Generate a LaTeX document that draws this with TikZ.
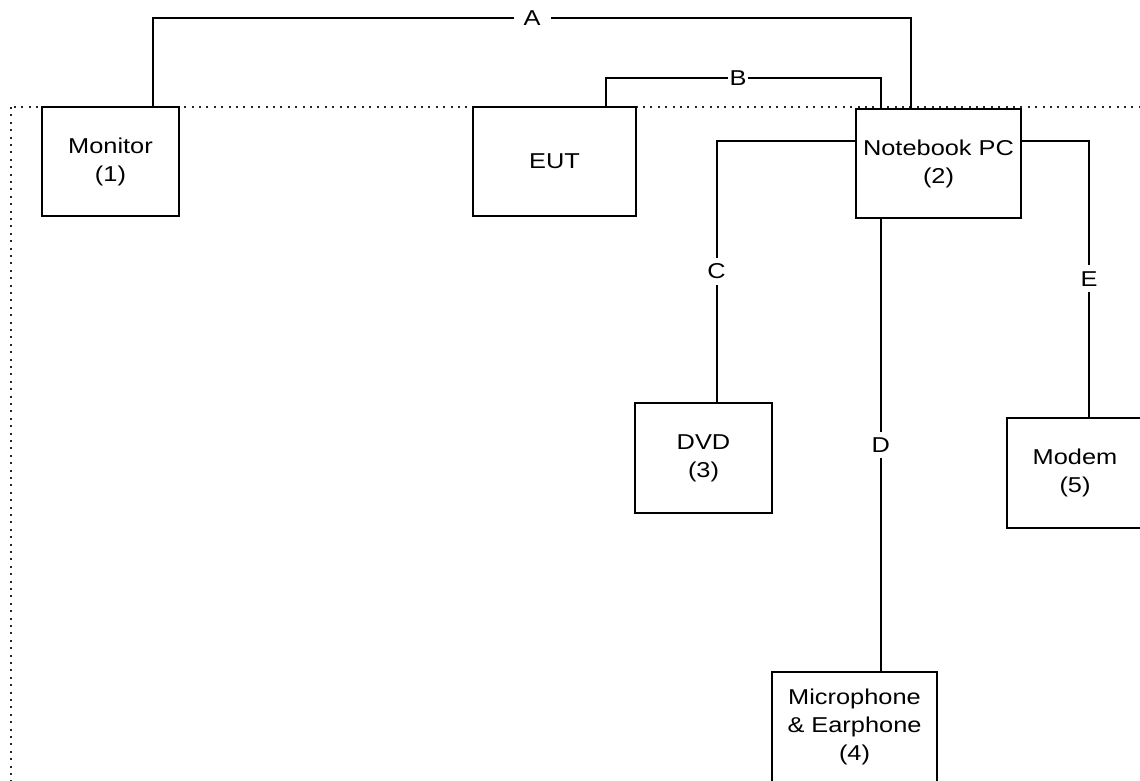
\documentclass[tikz,border=0pt]{standalone}
\usepackage{fontspec}
\newfontfamily\diagfont{Liberation Sans}[FakeStretch=1.18]
\tikzset{
    unit/.style={
    draw=black,
    line width=2.4pt,
    fill=white,
    align=center,
    inner sep=0pt,
    font=\diagfont\fontsize{21.5}{28}\selectfont,
    },
    cable/.style={line width=2pt},
    tag/.style={fill=white, inner xsep=1.5pt, inner ysep=2pt, font=\diagfont\fontsize{21.5}{24}\selectfont},
}
\begin{document}
\begin{tikzpicture}[x=1pt,y=-1pt]
\useasboundingbox (0,0) rectangle (1140,781);
\draw[line width=2pt, dash pattern=on 2pt off 5.4pt, black!85] (11,107) rectangle (1152,781.5); % test site
\node[unit, minimum width=137, minimum height=109] (monitor) at (110.5,161.5) {Monitor\\(1)};
\node[unit, minimum width=163, minimum height=109] (eut) at (554.5,161.5) {EUT};
\node[unit, minimum width=165, minimum height=109] (pc) at (938.5,163.5) {Notebook PC\\(2)};
\node[unit, minimum width=137, minimum height=110] (dvd) at (703.5,458) {DVD\\(3)};
\node[unit, minimum width=136, minimum height=110] (modem) at (1075,473) {Modem\\(5)};
\node[unit, minimum width=165, minimum height=110] (mic) at (854.5,727) {Microphone\\\& Earphone\\(4)};
\draw[cable] ([xshift=-27pt]monitor.north east) -- ++(0,-88) -| ([xshift=-111pt]pc.north east) node[tag, inner xsep=10pt, pos=0.25]{A}; % cable A
\draw[cable] ([xshift=-31pt]eut.north east) -- ++(0,-28) -| ([xshift=26pt]pc.north west) node[tag, pos=0.24]{B}; % cable B
\draw[cable] ([yshift=-33pt]pc.north west) -| ([xshift=13pt]dvd.north) node[tag, inner ysep=6pt, pos=0.75]{C}; % cable C
\draw[cable] ([xshift=26pt]pc.south west) -- ([xshift=26pt]pc.south west |- mic.north) node[tag, inner ysep=6pt, midway]{D}; % cable D
\draw[cable] ([yshift=-33pt]pc.north east) -| ([xshift=14pt]modem.north) node[tag, inner ysep=6pt, pos=0.75]{E}; % cable E
\end{tikzpicture}
\end{document}
